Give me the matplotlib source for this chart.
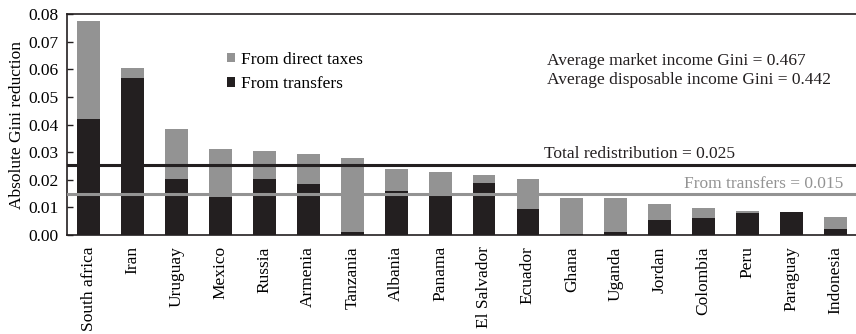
import matplotlib
matplotlib.use("Agg")
import matplotlib.pyplot as plt
from matplotlib.patches import Patch

countries = ["South africa", "Iran", "Uruguay", "Mexico", "Russia", "Armenia",
             "Tanzania", "Albania", "Panama", "El Salvador", "Ecuador", "Ghana",
             "Uganda", "Jordan", "Colombia", "Peru", "Paraguay", "Indonesia"]
total = [0.0774, 0.0603, 0.0384, 0.0311, 0.0304, 0.0293, 0.0278, 0.0241, 0.0227,
         0.0217, 0.0203, 0.0135, 0.0133, 0.0113, 0.0097, 0.0089, 0.0084, 0.0066]
transfers = [0.0420, 0.0567, 0.0203, 0.0138, 0.0203, 0.0186, 0.0010, 0.0159, 0.0141,
             0.0189, 0.0094, 0.0003, 0.0010, 0.0054, 0.0063, 0.0081, 0.0084, 0.0022]
taxes = [t - tr for t, tr in zip(total, transfers)]
avg_total = 0.0253
avg_transfers = 0.0148

plt.rcParams['font.family'] = ['Liberation Serif', 'DejaVu Serif']
FS = 12.5

BLACK = '#231f20'
GRAY = '#939393'

fig = plt.figure(figsize=(8.56, 3.34), dpi=100)
ax = fig.add_axes([0.078, 0.296, 0.922, 0.662])

x = range(len(countries))
ax.bar(x, transfers, width=0.52, color=BLACK, edgecolor='none', zorder=2)
ax.bar(x, taxes, width=0.52, bottom=transfers, color=GRAY, edgecolor='none', zorder=2)

ax.axhline(avg_total, color=BLACK, lw=2.2, zorder=3)
ax.axhline(avg_transfers, color=GRAY, lw=2.2, zorder=3)

ax.set_xlim(-0.5, 17.47)
ax.set_ylim(0, 0.08)
yt = [0, 0.01, 0.02, 0.03, 0.04, 0.05, 0.06, 0.07, 0.08]
ax.set_yticks(yt)
ax.set_yticklabels([f"{v:.2f}" for v in yt], fontsize=FS)
ax.set_xticks(list(x))
ax.set_xticklabels(countries, rotation=90, fontsize=FS)
ax.tick_params(axis='x', length=0, pad=8)
ax.tick_params(axis='y', direction='in', length=4, width=1, color=BLACK, pad=6)
ax.set_ylabel("Absolute Gini reduction", fontsize=FS, labelpad=2)

for s in ['left', 'bottom', 'top']:
    ax.spines[s].set_color(BLACK)
    ax.spines[s].set_linewidth(1.2)
ax.spines['right'].set_visible(False)

handles = [Patch(facecolor=GRAY, edgecolor='none', label='From direct taxes'),
           Patch(facecolor=BLACK, edgecolor='none', label='From transfers')]
ax.legend(handles=handles, loc='upper left', bbox_to_anchor=(0.2028, 0.83),
          frameon=False, fontsize=FS, handlelength=0.46, handleheight=0.46,
          handletextpad=0.35, labelspacing=0.5, borderpad=0, borderaxespad=0)

ax.text(0.608, 0.0615, "Average market income Gini = 0.467",
        transform=ax.get_yaxis_transform(), fontsize=FS, va='baseline', ha='left', color=BLACK)
ax.text(0.608, 0.0547, "Average disposable income Gini = 0.442",
        transform=ax.get_yaxis_transform(), fontsize=FS, va='baseline', ha='left', color=BLACK)
ax.text(0.6046, 0.0279, "Total redistribution = 0.025",
        transform=ax.get_yaxis_transform(), fontsize=FS, ha='left', va='baseline', color=BLACK)
ax.text(0.9835, 0.0170, "From transfers = 0.015",
        transform=ax.get_yaxis_transform(), fontsize=FS, ha='right', va='baseline', color=GRAY)

fig.savefig("out.png", dpi=100)
